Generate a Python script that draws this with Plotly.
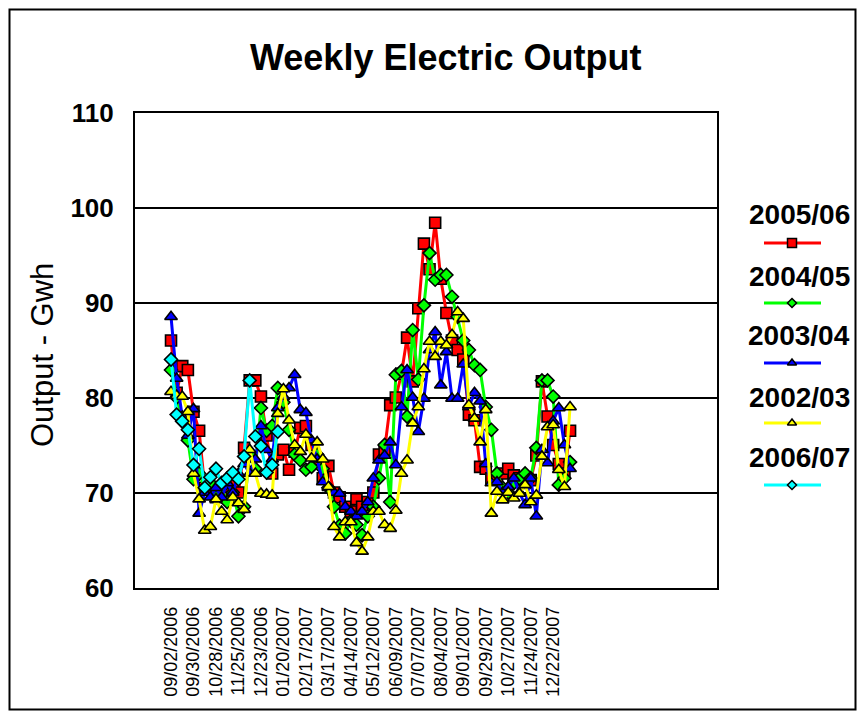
import plotly.graph_objects as go

# ---------------- data ----------------
week_dates = [
    "09/02/2006", "09/09/2006", "09/16/2006", "09/23/2006", "09/30/2006", "10/07/2006",
    "10/14/2006", "10/21/2006", "10/28/2006", "11/04/2006", "11/11/2006", "11/18/2006",
    "11/25/2006", "12/02/2006", "12/09/2006", "12/16/2006", "12/23/2006", "12/30/2006",
    "01/06/2007", "01/13/2007", "01/20/2007", "01/27/2007", "02/03/2007", "02/10/2007",
    "02/17/2007", "02/24/2007", "03/03/2007", "03/10/2007", "03/17/2007", "03/24/2007",
    "03/31/2007", "04/07/2007", "04/14/2007", "04/21/2007", "04/28/2007", "05/05/2007",
    "05/12/2007", "05/19/2007", "05/26/2007", "06/02/2007", "06/09/2007", "06/16/2007",
    "06/23/2007", "06/30/2007", "07/07/2007", "07/14/2007", "07/21/2007", "07/28/2007",
    "08/04/2007", "08/11/2007", "08/18/2007", "08/25/2007", "09/01/2007", "09/08/2007",
    "09/15/2007", "09/22/2007", "09/29/2007", "10/06/2007", "10/13/2007", "10/20/2007",
    "10/27/2007", "11/03/2007", "11/10/2007", "11/17/2007", "11/24/2007", "12/01/2007",
    "12/08/2007", "12/15/2007", "12/22/2007", "12/29/2007", "01/05/2008", "01/12/2008",
]

tick_labels = [
    "09/02/2006", "09/30/2006", "10/28/2006", "11/25/2006", "12/23/2006", "01/20/2007",
    "02/17/2007", "03/17/2007", "04/14/2007", "05/12/2007", "06/09/2007", "07/07/2007",
    "08/04/2007", "09/01/2007", "09/29/2007", "10/27/2007", "11/24/2007", "12/22/2007",
]

out_2005_06 = [
    86.0, 80.5, 83.3, 82.9, 78.5, 76.5, 70.5, 70.3, 69.5, 70.0, 70.6, 71.0,
    70.0, 74.7, 81.8, 81.8, 80.1, 76.0, 72.0, 74.0, 74.5, 72.4, 74.3, 76.8,
    77.0, 75.0, 73.5, 71.5, 72.8, 70.0, 69.5, 68.5, 68.0, 69.3, 68.5, 69.0,
    70.0, 74.0, 74.5, 79.2, 80.0, 82.5, 86.3, 81.7, 89.4, 96.2, 93.5, 98.4,
    92.5, 88.9, 86.0, 85.0, 84.0, 78.2, 77.6, 72.7, 72.5, 71.5, 71.5, 72.0,
    72.5, 71.8, 71.5, 71.0, 71.3, 73.9, 81.7, 78.0, 75.0, 73.0, 72.0, 76.5,
]

out_2004_05 = [
    82.9, 80.0, 77.5, 75.5, 71.4, 72.0, 70.5, 71.0, 69.5, 70.5, 69.0, 70.0,
    67.5, 68.5, 74.0, 72.5, 78.9, 76.5, 77.0, 81.0, 79.5, 76.6, 74.0, 73.4,
    72.4, 72.7, 74.0, 72.5, 70.5, 68.5, 66.5, 65.7, 67.0, 66.6, 65.5, 67.5,
    68.5, 71.5, 75.0, 69.0, 82.4, 82.8, 78.0, 87.1, 81.9, 89.7, 95.2, 92.4,
    92.9, 92.9, 90.6, 88.5, 86.0, 85.0, 83.4, 82.9, 79.0, 76.6, 72.0, 70.5,
    70.0, 71.0, 71.5, 72.0, 71.5, 74.7, 81.8, 81.8, 80.1, 70.8, 71.5, 73.2,
]

out_2003_04 = [
    88.5, 82.0, 78.0, 76.0, 78.8, 67.8, 70.0, 69.5, 70.5, 69.5, 71.0, 70.0,
    72.0, 73.0, 72.0, 73.5, 77.0, 74.5, 73.5, 78.9, 80.1, 81.0, 82.4, 78.7,
    78.4, 75.5, 73.5, 71.1, 70.5, 70.0, 69.9, 68.5, 68.0, 67.5, 68.0, 69.0,
    71.5, 73.4, 73.9, 75.3, 72.9, 79.0, 82.9, 80.0, 76.4, 79.9, 85.0, 86.9,
    81.3, 84.8, 79.9, 79.9, 83.5, 79.0, 80.5, 79.6, 73.0, 71.0, 71.1, 70.0,
    70.6, 71.5, 70.0, 68.7, 71.5, 67.5, 74.5, 73.1, 77.5, 78.9, 75.0, 72.5,
]

out_2002_03 = [
    80.6, 80.2, 80.1, 78.5, 72.0, 69.3, 66.0, 66.4, 69.3, 68.0, 67.1, 69.5,
    68.9, 68.2, 74.5, 72.0, 69.9, 69.8, 69.7, 78.3, 80.9, 77.6, 75.0, 74.3,
    76.1, 73.6, 75.3, 73.5, 70.6, 66.4, 65.3, 66.9, 66.9, 64.7, 63.8, 65.3,
    68.0, 68.0, 66.6, 66.2, 68.1, 72.0, 73.4, 77.3, 79.0, 83.0, 85.9, 84.3,
    85.9, 85.5, 86.6, 89.0, 88.3, 79.2, 77.8, 75.3, 78.7, 67.8, 70.1, 69.2,
    70.0, 69.4, 69.9, 70.8, 69.0, 69.7, 73.8, 76.9, 77.1, 72.4, 70.6, 79.0,
]

out_2006_07 = [
    84.0, 78.2, 77.5, 76.6, 72.9, 74.6, 70.5, 71.6, 72.5, 71.0, 71.5, 72.1,
    71.4, 73.8, 81.8, 75.9, 74.9, 72.1, 72.9, 76.4,
]

series_names = ["2005/06", "2004/05", "2003/04", "2002/03", "2006/07"]
series_values = [out_2005_06, out_2004_05, out_2003_04, out_2002_03, out_2006_07]
series_colors = ["#FF0000", "#00FF00", "#0000FF", "#FFFF00", "#00FFFF"]
series_symbols = ["square", "diamond", "triangle-up", "triangle-up", "diamond"]
series_sizes = [11, 10, 11, 11, 10]

# ---------------- layout geometry (screen pixels) ----------------
OFF = 8                      # page body margin
W, H = 849, 703
PL, PR, PT, PB = 135, 717, 112.5, 587.5   # plot area in screen pixels


def px(x):
    return (x - OFF) / W


def py(y):
    return 1 - (y - OFF) / H


FONT = "Liberation Sans, Arial, sans-serif"

fig = go.Figure()

for name, vals, col, sym, sz in zip(series_names, series_values, series_colors,
                                    series_symbols, series_sizes):
    fig.add_trace(go.Scatter(
        x=week_dates[:len(vals)], y=vals, name=name, mode="lines+markers",
        line=dict(color=col, width=3),
        marker=dict(symbol=sym, size=sz, color=col,
                    line=dict(color="black", width=1.6)),
        showlegend=False, xaxis="x", yaxis="y",
    ))

# custom legend (text above a line sample) on an overlay pixel axis
leg_text_y = [215, 276, 336, 397, 457]
leg_line_y = [243, 303, 363, 423, 485]
leg_marker_sizes = [9, 7, 8, 8, 7]
for name, col, sym, ms, ty, ly in zip(series_names, series_colors, series_symbols,
                                      leg_marker_sizes, leg_text_y, leg_line_y):
    fig.add_trace(go.Scatter(
        x=[764, 821], y=[ly, ly], mode="lines", line=dict(color=col, width=3),
        xaxis="x2", yaxis="y2", showlegend=False, hoverinfo="skip"))
    fig.add_trace(go.Scatter(
        x=[792], y=[ly], mode="markers",
        marker=dict(symbol=sym, size=ms, color=col, line=dict(color="black", width=1.5)),
        xaxis="x2", yaxis="y2", showlegend=False, hoverinfo="skip"))
    fig.add_annotation(x=px(799), y=py(ty), xref="paper", yref="paper",
                       text=name, showarrow=False, xanchor="center", yanchor="middle",
                       font=dict(family=FONT, size=28, color="black", weight="bold"))

# title and axis title
fig.add_annotation(x=px(445), y=py(58), xref="paper", yref="paper",
                   text="Weekly Electric Output", showarrow=False,
                   xanchor="center", yanchor="middle",
                   font=dict(family=FONT, size=36, color="black", weight="bold"))
fig.add_annotation(x=px(42), y=py(355), xref="paper", yref="paper",
                   text="Output - Gwh", showarrow=False, textangle=-90,
                   xanchor="center", yanchor="middle",
                   font=dict(family=FONT, size=31, color="black"))

# outer chart border
fig.add_shape(type="rect", xref="paper", yref="paper",
              x0=px(9.5), x1=px(855.5), y0=py(709.5), y1=py(9.5),
              line=dict(color="black", width=2), fillcolor="rgba(0,0,0,0)")

fig.update_layout(
    width=W, height=H,
    margin=dict(l=0, r=0, t=0, b=0),
    paper_bgcolor="white", plot_bgcolor="rgba(0,0,0,0)",
    showlegend=False,
    xaxis=dict(
        type="category", categoryorder="array", categoryarray=week_dates,
        domain=[px(PL), px(PR)], range=[-6.41, 97.15], anchor="y",
        tickmode="array", tickvals=tick_labels, ticktext=tick_labels,
        tickangle=-90, ticks="", showgrid=False, automargin=False,
        showline=True, linecolor="black", linewidth=2, mirror=True,
        tickfont=dict(family=FONT, size=18, color="black"),
        ticklabelstandoff=10,
    ),
    yaxis=dict(
        domain=[py(PB), py(PT)], range=[60, 110], dtick=10, anchor="x",
        showgrid=True, gridcolor="black", gridwidth=2, zeroline=False,
        showline=True, linecolor="black", linewidth=2, mirror=True,
        ticks="", automargin=False,
        tickfont=dict(family=FONT, size=26, color="black", weight="bold"),
        ticklabelstandoff=14,
    ),
    xaxis2=dict(domain=[0, 1], range=[OFF, OFF + W], visible=False, anchor="y2",
                fixedrange=True),
    yaxis2=dict(domain=[0, 1], range=[OFF + H, OFF], visible=False, anchor="x2",
                fixedrange=True),
)

fig.write_html("out.html")
